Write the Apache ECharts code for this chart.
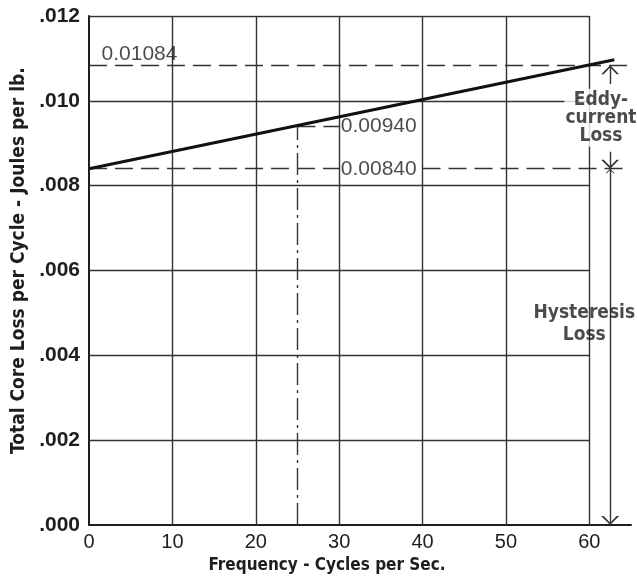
<!DOCTYPE html>
<html><head><meta charset="utf-8">
<script src="https://cdn.jsdelivr.net/npm/echarts@6/dist/echarts.min.js"></script>
<style>html,body{margin:0;padding:0;background:#fff}#c{width:637px;height:579px}</style>
</head><body><div id="c"></div>
<script>
// ---- data ----
const xTicks = [0, 10, 20, 30, 40, 50, 60];
const yTicks = [0, 0.002, 0.004, 0.006, 0.008, 0.010, 0.012];
const lossFreq = [0, 63];
const lossTotal = [0.0084, 0.01097];
const frameRight = 60;
const frameTop = 0.012;
const axisEnd = 65;
const totalAt60 = 0.01084;
const hysteresis = 0.0084;
const totalAt25 = 0.0094;
const markFreq = 25;
const arrowFreq = 62.5;
const valueLabels = ['0.01084', '0.00940', '0.00840'];
const valueLabelPos = [[1.5, 0.01109], [30.2, 0.0094], [30.2, 0.0084]];
const noteLabels = ['Eddy-\ncurrent\nLoss', 'Hysteresis\nLoss'];
const noteLabelPos = [[61.4, 0.0096], [59.4, 0.00473]];
const eddyStemEnds = [0.0104, 0.0088];

const INK = '#1e1e1e';
const NARROW = '"Liberation Sans Narrow","DejaVu Sans Condensed",sans-serif';
const chevron = 'path://M5,0L5.01,0L5,0.01Z M5,12 L10,24 L8.6,24 L5,15.2 L1.4,24 L0,24 Z';

const gridSegs = [];
xTicks.slice(1).forEach(x => gridSegs.push({coords: [[x, 0], [x, frameTop]]}));
yTicks.slice(1).forEach(y => gridSegs.push({coords: [[0, y], [frameRight, y]]}));

const dashedSegs = [
  {coords: [[0, totalAt60], [axisEnd, totalAt60]]},
  {coords: [[0, hysteresis], [30, hysteresis]]},
  {coords: [[40, hysteresis], [64, hysteresis]]},
  {coords: [[markFreq, totalAt25], [30, totalAt25]]}
];
const dashDotSegs = [{coords: [[markFreq, 0], [markFreq, totalAt25]]}];
const arrowEndSegs = [
  {coords: [[arrowFreq, eddyStemEnds[0]], [arrowFreq, totalAt60]]},
  {coords: [[arrowFreq, eddyStemEnds[1]], [arrowFreq, hysteresis]]}
];
const arrowBothSegs = [{coords: [[arrowFreq, hysteresis], [arrowFreq, 0]]}];

const textData = [];
valueLabels.forEach((t, i) => textData.push({
  value: valueLabelPos[i],
  label: {show: true, position: 'inside', align: 'left', verticalAlign: 'middle', formatter: t,
    fontFamily: '"Liberation Sans",Arial,sans-serif', fontSize: 21, color: INK}
}));
textData.push({
  value: noteLabelPos[0],
  label: {show: true, position: 'inside', align: 'center', verticalAlign: 'middle', formatter: noteLabels[0],
    fontFamily: NARROW, fontWeight: 'bold', fontSize: 19, lineHeight: 18, color: INK,
    backgroundColor: '#fff', padding: [2, 1, 2, 1]}
});
textData.push({
  value: noteLabelPos[1],
  label: {show: true, position: 'inside', align: 'center', verticalAlign: 'middle', formatter: noteLabels[1],
    fontFamily: NARROW, fontWeight: 'bold', fontSize: 19, lineHeight: 22, color: INK}
});

const chart = echarts.init(document.getElementById('c'), null, {renderer: 'canvas'});
chart.setOption({
  animation: false,
  backgroundColor: '#fff',
  grid: {left: 89, right: 6, top: 16, bottom: 51, containLabel: false},
  xAxis: {
    type: 'value', min: 0, max: axisEnd, interval: 10,
    axisLine: {show: true, lineStyle: {color: INK, width: 2}},
    axisTick: {show: false},
    splitLine: {show: false},
    axisLabel: {
      margin: 7, color: INK, fontSize: 20, fontFamily: '"Liberation Sans",Arial,sans-serif',
      formatter: v => (xTicks.indexOf(v) >= 0 ? String(v) : '')
    },
    name: 'Frequency - Cycles per Sec.', nameLocation: 'middle', nameGap: 28,
    nameTextStyle: {color: INK, fontSize: 17, fontWeight: 'bold', fontFamily: NARROW, padding: [0, 66, 0, 0]}
  },
  yAxis: {
    type: 'value', min: 0, max: frameTop, interval: 0.002,
    axisLine: {show: true, lineStyle: {color: INK, width: 2}},
    axisTick: {show: false},
    splitLine: {show: false},
    axisLabel: {
      margin: 9, color: INK, fontSize: 21, fontWeight: 'bold', fontFamily: '"Liberation Sans",Arial,sans-serif',
      formatter: v => v.toFixed(3).replace(/^0/, '')
    },
    name: 'Total Core Loss per Cycle - Joules per lb.', nameLocation: 'middle', nameGap: 52,
    nameTextStyle: {color: INK, fontSize: 19, fontWeight: 'bold', fontFamily: NARROW, padding: [0, 0, 0, 20]}
  },
  series: [
    {type: 'lines', coordinateSystem: 'cartesian2d', z: 1, silent: true,
      lineStyle: {color: '#333', width: 1.4, opacity: 1}, data: gridSegs},
    {type: 'lines', coordinateSystem: 'cartesian2d', z: 2, silent: true,
      lineStyle: {color: '#333', width: 1.4, type: [18, 8], opacity: 1}, data: dashedSegs},
    {type: 'lines', coordinateSystem: 'cartesian2d', z: 2, silent: true,
      lineStyle: {color: '#333', width: 1.4, type: [22, 5, 3, 5], opacity: 1}, data: dashDotSegs},
    {type: 'lines', coordinateSystem: 'cartesian2d', z: 3, silent: true,
      symbol: ['none', chevron], symbolSize: [9, 18],
      lineStyle: {color: '#333', width: 1.4, opacity: 1}, data: arrowEndSegs},
    {type: 'lines', coordinateSystem: 'cartesian2d', z: 3, silent: true,
      symbol: [chevron, chevron], symbolSize: [9, 18],
      lineStyle: {color: '#333', width: 1.4, opacity: 1}, data: arrowBothSegs},
    {type: 'line', name: 'Total core loss', z: 5, symbol: 'none', silent: true,
      lineStyle: {color: '#111', width: 3},
      data: lossFreq.map((f, i) => [f, lossTotal[i]])},
    {type: 'scatter', z: 10, symbolSize: 0, silent: true, data: textData}
  ]
});
</script></body></html>
